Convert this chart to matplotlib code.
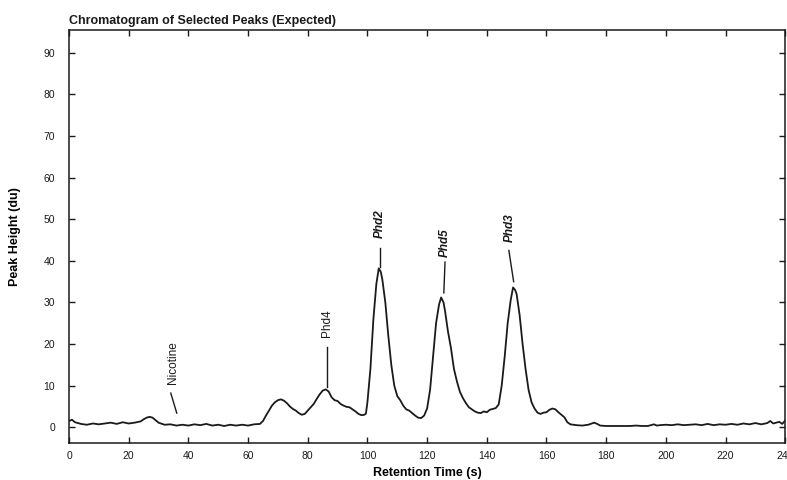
import matplotlib
matplotlib.use('Agg')
import matplotlib.pyplot as plt

# retention time (s) and detector response (du)
times = [0, 1, 2, 4, 6, 8, 10, 12, 14, 16, 18, 20, 22, 24, 25, 26, 27, 28, 29, 30,
         32, 34, 36, 38, 40, 42, 44, 46, 48, 50, 52, 54, 56, 58, 60, 62, 64, 65, 66, 67,
         68, 69, 70, 71, 72, 73, 74, 75, 76, 77, 78, 79, 80, 81, 82, 83, 84, 85, 86, 87,
         88, 89, 90, 91, 92, 93, 94, 95, 96, 97, 98, 99, 99.5, 100, 101, 102, 103, 103.8, 104.5, 105,
         106, 107, 108, 109, 110, 111, 112, 113, 114, 115, 116, 117, 118, 119, 120, 121, 122, 123, 124, 124.7,
         125.5, 126, 127, 128, 129, 130, 131, 132, 133, 134, 135, 136, 137, 138, 139, 140, 141, 142, 143, 144,
         145, 146, 147, 148, 148.8, 149.5, 150, 151, 152, 153, 154, 155, 156, 157, 158, 159, 160, 161, 162, 163,
         164, 165, 166, 167, 168, 170, 172, 174, 176, 177, 178, 180, 182, 184, 186, 188, 190, 192, 194, 196,
         197, 198, 200, 202, 204, 206, 208, 210, 212, 214, 216, 218, 220, 222, 224, 226, 228, 230, 232, 234,
         235, 236, 238, 239, 240]
heights = [1.5, 1.8, 1.2, 0.8, 0.6, 0.9, 0.7, 0.9, 1.1, 0.8, 1.2, 0.9, 1.1, 1.4, 1.9, 2.3, 2.5, 2.3, 1.7, 1.1,
           0.6, 0.7, 0.4, 0.6, 0.4, 0.7, 0.5, 0.8, 0.4, 0.6, 0.3, 0.6, 0.4, 0.6, 0.4, 0.7, 0.8, 1.5, 2.8, 4.0,
           5.2, 6.0, 6.5, 6.7, 6.4, 5.8, 5.0, 4.4, 4.0, 3.4, 3.0, 3.2, 4.0, 4.8, 5.6, 6.8, 7.9, 8.8, 9.1, 8.6,
           7.2, 6.5, 6.3, 5.6, 5.2, 4.9, 4.8, 4.3, 3.8, 3.2, 2.9, 3.0, 3.3, 6.0, 14, 26, 34.5, 38.2, 37.3, 35.5,
           30, 22, 15, 10, 7.5, 6.5, 5.2, 4.3, 4.0, 3.4, 2.8, 2.3, 2.2, 2.8, 4.5, 9, 17, 25, 29.5, 31.2,
           30, 28, 23, 19, 14, 11, 8.5, 7, 5.8, 4.8, 4.3, 3.8, 3.5, 3.4, 3.8, 3.6, 4.2, 4.4, 4.6, 5.5,
           10, 17, 25, 30.5, 33.6, 33, 32, 27, 20, 14, 9, 6, 4.5, 3.5, 3.2, 3.5, 3.6, 4.2, 4.5, 4.3,
           3.6, 3.0, 2.4, 1.2, 0.7, 0.5, 0.4, 0.6, 1.1, 0.8, 0.4, 0.3, 0.3, 0.3, 0.3, 0.3, 0.4, 0.3, 0.3, 0.7,
           0.4, 0.5, 0.6, 0.5, 0.7, 0.5, 0.6, 0.7, 0.5, 0.8, 0.5, 0.7, 0.6, 0.8, 0.6, 0.9, 0.7, 1.0, 0.7, 1.0,
           1.5, 0.9, 1.3, 0.8, 1.6]

# peak labels: name, text x, text bottom y, line start (x, y), line end (x, y), highlighted
peak_names = ['Nicotine', 'Phd4', 'Phd2', 'Phd5', 'Phd3']
label_x = [34.9, 86.5, 104.2, 126.0, 147.8]
label_y = [10.3, 21.6, 45.5, 41.0, 44.5]
line_from = [(34.1, 8.2), (86.5, 19.2), (104.2, 43.0), (126.0, 39.7), (147.4, 42.5)]
line_to = [(36.1, 3.4), (86.5, 9.6), (104.2, 38.6), (125.6, 32.3), (149.0, 35.0)]
highlight = [False, False, True, True, True]

xticks = list(range(0, 241, 20))
yticks = list(range(0, 91, 10))

plt.rcParams['font.family'] = ['Liberation Sans', 'DejaVu Sans']

fig = plt.figure(figsize=(7.87, 4.8), dpi=100)
ax = fig.add_axes([0.0877, 0.077, 0.91, 0.8605])

ax.plot(times, heights, color='#1a1a1a', linewidth=1.3)

for name, tx, ty, p0, p1, hl in zip(peak_names, label_x, label_y, line_from, line_to, highlight):
    ax.text(tx, ty, name, rotation=90, ha='center', va='bottom', fontsize=8.5,
            fontweight='bold' if hl else 'normal', fontstyle='italic' if hl else 'normal',
            color='#1a1a1a')
    ax.plot([p0[0], p1[0]], [p0[1], p1[1]], color='#1a1a1a', linewidth=1.0)

ax.set_xlim(0, 240)
ax.set_ylim(-3.8, 95.5)
ax.set_xticks(xticks)
ax.set_yticks(yticks)
ax.tick_params(direction='in', top=True, right=True, labelsize=7.5, length=4, width=1.0,
               colors='#1a1a1a')
ax.tick_params(axis='y', pad=10)
ax.tick_params(axis='x', pad=6)
for s in ax.spines.values():
    s.set_linewidth(1.1)
    s.set_color('#1a1a1a')

ax.set_title('Chromatogram of Selected Peaks (Expected)', loc='left', fontsize=9,
             fontweight='bold', pad=4, color='#1a1a1a')
ax.set_xlabel('Retention Time (s)', fontsize=9, fontweight='bold', labelpad=4)
ax.set_ylabel('Peak Height (du)', fontsize=9, fontweight='bold', labelpad=16)

fig.savefig('out.png', dpi=100)
